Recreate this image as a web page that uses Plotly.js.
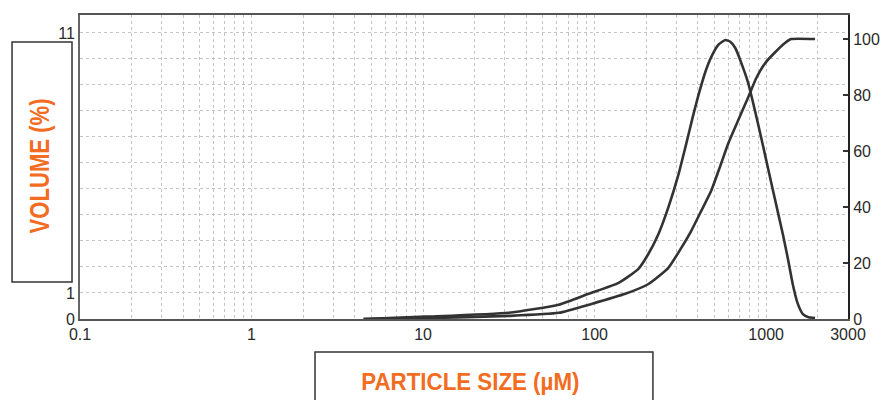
<!DOCTYPE html>
<html>
<head>
<meta charset="utf-8">
<script src="https://cdn.plot.ly/plotly-3.0.1.min.js"></script>
<style>html,body{margin:0;padding:0;background:#fff;}#chart{width:895px;height:400px;}</style>
</head>
<body>
<div id="chart"></div>
<script>
// Particle size (µm) and volume frequency (%) - left axis
var freqSize = [4.5, 10.4, 31.6, 61.8, 92.3, 138, 180, 206, 236, 269, 308, 338, 376, 403, 442, 479, 526, 578, 618, 661, 716, 786, 840, 898, 960, 1026, 1096, 1172, 1253, 1339, 1432, 1530, 1636, 1749, 1928];
var freqVolume = [0, 0.09, 0.24, 0.55, 0.97, 1.39, 1.93, 2.51, 3.28, 4.29, 5.55, 6.60, 7.85, 8.61, 9.50, 10.08, 10.54, 10.73, 10.66, 10.42, 9.85, 9.07, 8.30, 7.49, 6.64, 5.79, 4.94, 4.09, 3.24, 2.32, 1.31, 0.58, 0.19, 0.08, 0.04];
// Cumulative volume (%) - right axis
var cumSize = [4.5, 10.4, 31.6, 61.8, 96, 151, 206, 269, 320, 366, 419, 479, 541, 601, 687, 786, 875, 986, 1128, 1288, 1396, 1928];
var cumVolume = [0, 0.3, 1.1, 2.2, 5.4, 9.0, 12.5, 18.3, 25.4, 31.5, 38.7, 45.9, 54.8, 62.7, 71.0, 79.2, 86.0, 91.4, 95.3, 98.6, 100, 100];

var xTickVals = [0.1,0.2,0.3,0.4,0.5,0.6,0.7,0.8,0.9,1,2,3,4,5,6,7,8,9,10,20,30,40,50,60,70,80,90,100,200,300,400,500,600,700,800,900,1000,2000,3000];
var xMajor = {0.1:'0.1', 1:'1', 10:'10', 100:'100', 1000:'1000', 3000:'3000'};
var xTickText = xTickVals.map(function(v){ return xMajor[v] || ''; });
var leftTickVals = [0,1,2,3,4,5,6,7,8,9,10,11];
var leftTickText = ['0','1','','','','','','','','','','11'];
var rightTickVals = [0,20,40,60,80,100];

var orange = '#F26C22';
var tickFont = {family: 'Liberation Sans, Arial, sans-serif', size: 16, color: '#2a2a2a'};

var traces = [
  {x: freqSize, y: freqVolume, type: 'scatter', mode: 'lines', yaxis: 'y',
   line: {color: '#333', width: 2.6, shape: 'spline', smoothing: 0.5}, hoverinfo: 'x+y'},
  {x: cumSize, y: cumVolume, type: 'scatter', mode: 'lines', yaxis: 'y2',
   line: {color: '#333', width: 2.6, shape: 'spline', smoothing: 0.5}, hoverinfo: 'x+y'}
];

var layout = {
  width: 895, height: 400,
  margin: {l: 80, r: 47, t: 15, b: 81},
  paper_bgcolor: '#fff', plot_bgcolor: '#fff',
  showlegend: false,
  font: tickFont,
  xaxis: {
    type: 'log', range: [-1, Math.log10(3000)],
    tickvals: xTickVals, ticktext: xTickText, ticks: '',
    showgrid: true, gridcolor: '#c4c4c4', griddash: 'dot', gridwidth: 1,
    showline: true, linecolor: '#555', linewidth: 2, mirror: true,
    zeroline: false, tickfont: tickFont
  },
  yaxis: {
    range: [0, 11.69], tickvals: leftTickVals, ticktext: leftTickText, ticks: '',
    showgrid: true, gridcolor: '#c4c4c4', griddash: 'dot', gridwidth: 1,
    showline: true, linecolor: '#666', linewidth: 2,
    zeroline: false, tickfont: tickFont
  },
  yaxis2: {
    overlaying: 'y', side: 'right', range: [0, 108.6],
    tickvals: rightTickVals, ticks: 'inside', ticklen: 5, tickcolor: '#333', tickwidth: 1.5,
    showgrid: false, showline: true, linecolor: '#222', linewidth: 2,
    zeroline: false, tickfont: tickFont
  },
  shapes: [
    {type: 'rect', xref: 'paper', yref: 'paper', x0: -0.0885, x1: -0.0104, y0: 0.1217, y1: 0.911,
     line: {color: '#333', width: 1.5}, fillcolor: 'rgba(0,0,0,0)'},
    {type: 'rect', xref: 'paper', yref: 'paper', x0: 0.306, x1: 0.746, y0: -0.1086, y1: -0.30,
     line: {color: '#333', width: 1.5}, fillcolor: 'rgba(0,0,0,0)'}
  ],
  annotations: [
    {xref: 'paper', yref: 'paper', x: -0.0534, y: 0.505, text: 'VOLUME (%)', textangle: -90,
     showarrow: false, font: {family: 'Liberation Sans, Arial, sans-serif', size: 28, color: orange, weight: 'bold'},
     xanchor: 'center', yanchor: 'middle'},
    {xref: 'paper', yref: 'paper', x: 0.508, y: -0.204, text: 'PARTICLE SIZE (µM)',
     showarrow: false, font: {family: 'Liberation Sans, Arial, sans-serif', size: 24, color: orange, weight: 'bold'},
     xanchor: 'center', yanchor: 'middle'}
  ]
};

// horizontal compression per title to mimic the condensed typeface
var titleScale = [0.79, 0.93];

Plotly.newPlot('chart', traces, layout, {displayModeBar: false, staticPlot: true}).then(function(gd){
  var texts = gd.querySelectorAll('.annotation-text');
  texts.forEach(function(t, i){
    var x = parseFloat(t.getAttribute('x')) || 0;
    var s = titleScale[i] || 1;
    t.setAttribute('transform', 'translate(' + x + ',0) scale(' + s + ',1) translate(' + (-x) + ',0)');
  });
});
</script>
</body>
</html>
